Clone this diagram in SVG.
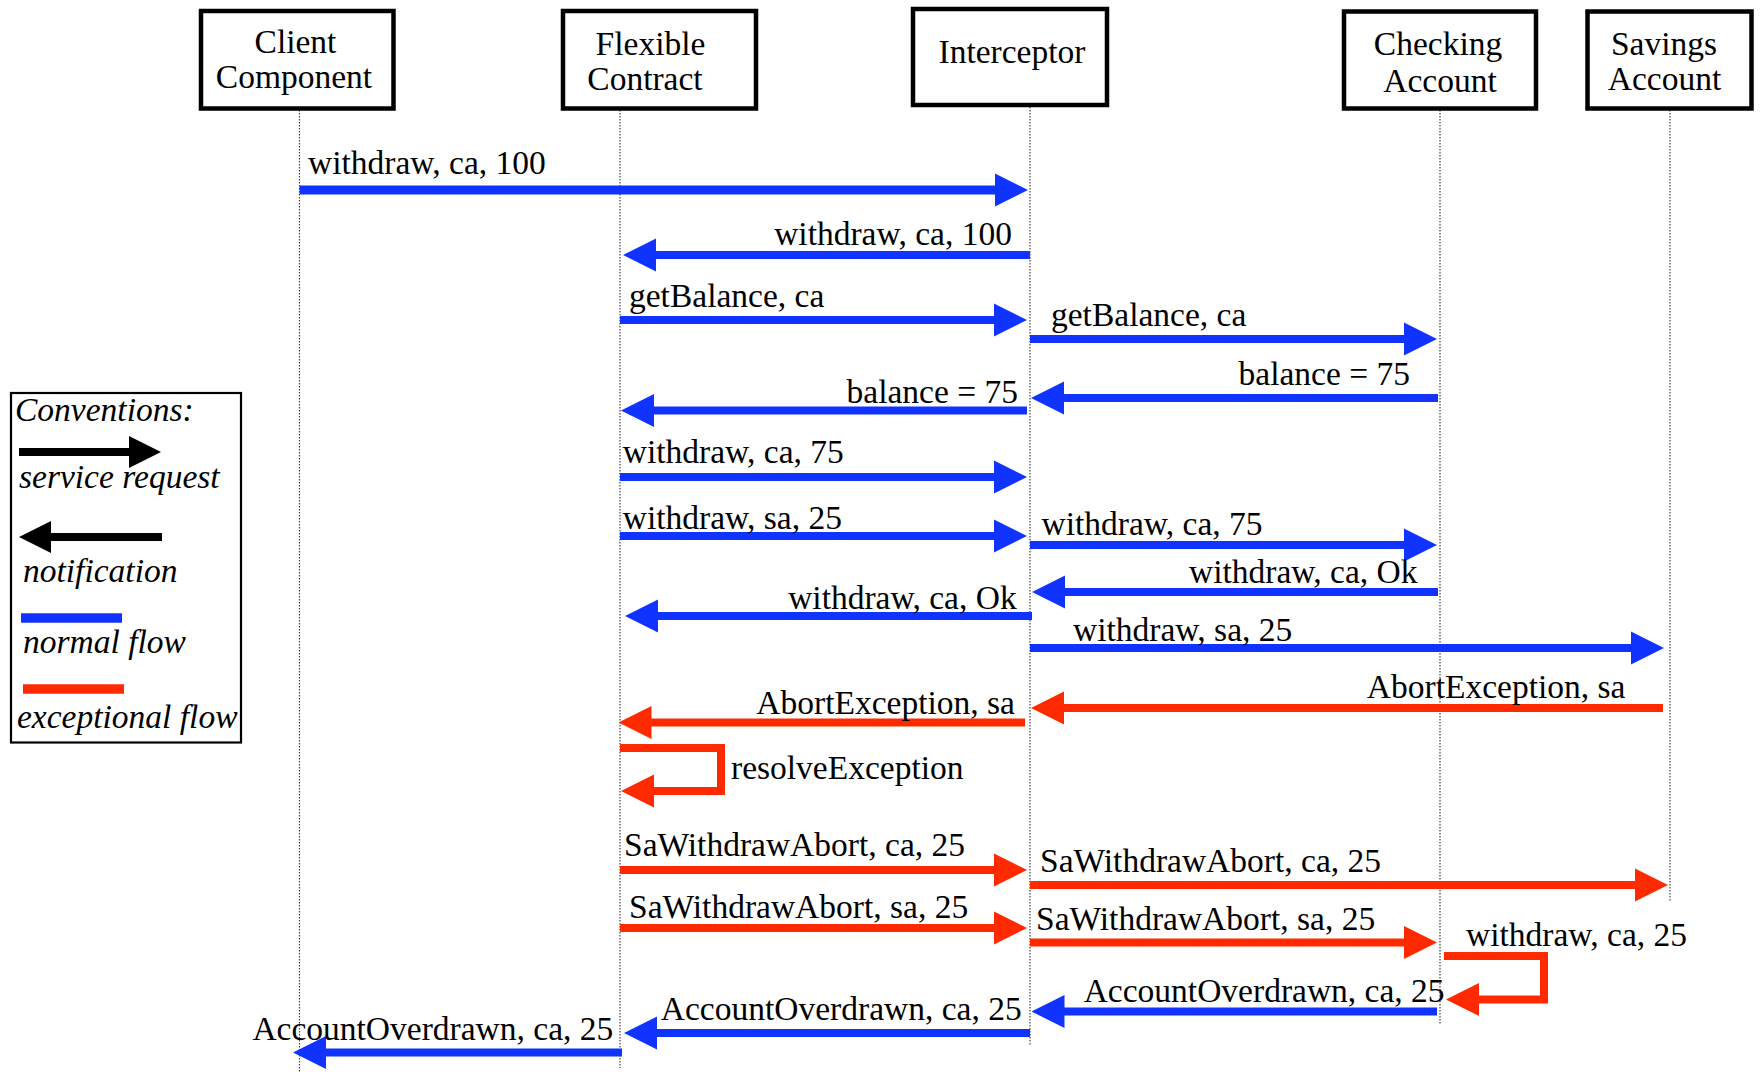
<svg xmlns="http://www.w3.org/2000/svg" width="1762" height="1072" viewBox="0 0 1762 1072">
<style>
  .box{fill:#fff;stroke:#000;stroke-width:4.5}
  .life{stroke:#444;stroke-width:1.2;stroke-dasharray:1.5 1.5;fill:none}
  text{font-family:"Liberation Serif","Times New Roman",serif;font-size:33.5px;fill:#000}
  .it{font-style:italic}
  .m{text-anchor:middle}
  .e{text-anchor:end}
  .n{stroke:#1133ff;stroke-width:8;fill:none;marker-end:url(#hb)}
  .x{stroke:#ff2a00;stroke-width:8;fill:none;marker-end:url(#hr);stroke-linejoin:miter}
  .k{stroke:#000;stroke-width:8;fill:none;marker-end:url(#hk)}
</style>
<defs>
  <marker id="hb" markerUnits="userSpaceOnUse" viewBox="0 -17 33 34" refX="1" refY="0" markerWidth="33" markerHeight="34" orient="auto"><path d="M0,-16.5 L33,0 L0,16.5z" fill="#1133ff"/></marker>
  <marker id="hr" markerUnits="userSpaceOnUse" viewBox="0 -17 33 34" refX="1" refY="0" markerWidth="33" markerHeight="34" orient="auto"><path d="M0,-16.5 L33,0 L0,16.5z" fill="#ff2a00"/></marker>
  <marker id="hk" markerUnits="userSpaceOnUse" viewBox="0 -17 33 34" refX="1" refY="0" markerWidth="33" markerHeight="34" orient="auto"><path d="M0,-16 L32,0 L0,16z" fill="#000"/></marker>
</defs>
<rect width="1762" height="1072" fill="#fff"/>

<!-- participants with their lifelines -->
<g id="client">
  <line class="life" x1="299.5" y1="110" x2="299.5" y2="1072"/>
  <rect class="box" x="201" y="11" width="192.5" height="97.5"/>
  <text class="m" x="295.5" y="53">Client</text>
  <text class="m" x="294" y="87.5">Component</text>
</g>
<g id="flexible-contract">
  <line class="life" x1="620" y1="110" x2="620" y2="1068"/>
  <rect class="box" x="563" y="11" width="193" height="97.5"/>
  <text class="m" x="650.5" y="55">Flexible</text>
  <text class="m" x="645" y="89.5">Contract</text>
</g>
<g id="interceptor">
  <line class="life" x1="1030" y1="107" x2="1030" y2="1045"/>
  <rect class="box" x="913" y="9" width="194" height="96"/>
  <text class="m" x="1012" y="62.5">Interceptor</text>
</g>
<g id="checking-account">
  <line class="life" x1="1440" y1="110" x2="1440" y2="1025"/>
  <rect class="box" x="1344" y="11.5" width="192" height="97"/>
  <text class="m" x="1438" y="54.5">Checking</text>
  <text class="m" x="1440" y="91.5">Account</text>
</g>
<g id="savings-account">
  <line class="life" x1="1670" y1="110" x2="1670" y2="902"/>
  <rect class="box" x="1587.5" y="11.5" width="164" height="97"/>
  <text class="m" x="1664" y="55">Savings</text>
  <text class="m" x="1664.5" y="90">Account</text>
</g>

<!-- messages -->
<g id="connectors">
  <path class="n" style="stroke-width:9" d="M299.5,190 H996"/>
  <path class="n" d="M1030,255 H655"/>
  <path class="n" d="M620,320 H995"/>
  <path class="n" d="M1030,339 H1405"/>
  <path class="n" d="M1438,398 H1063"/>
  <path class="n" d="M1027,410.5 H653"/>
  <path class="n" d="M620,477 H995"/>
  <path class="n" d="M620,536 H995"/>
  <path class="n" d="M1030,545 H1405"/>
  <path class="n" d="M1438,592 H1064"/>
  <path class="n" d="M1032,616 H657"/>
  <path class="n" d="M1030,648 H1632"/>
  <path class="x" d="M1663,708 H1063"/>
  <path class="x" d="M1025,722.5 H650.5"/>
  <path class="x" d="M620,748 H721 V791 H653"/>
  <path class="x" d="M620,870 H995"/>
  <path class="x" d="M1030,885 H1636"/>
  <path class="x" d="M620,928 H995"/>
  <path class="x" d="M1030,942.5 H1405"/>
  <path class="x" d="M1444,956 H1544 V999.5 H1478"/>
  <path class="n" d="M1437,1011.5 H1063.5"/>
  <path class="n" d="M1030,1033 H656"/>
  <path class="n" d="M622,1052.5 H325"/>
</g>

<g id="message-labels">
  <text x="308" y="174">withdraw, ca, 100</text>
  <text class="e" x="1012" y="245">withdraw, ca, 100</text>
  <text x="629" y="306.5">getBalance, ca</text>
  <text x="1051" y="326">getBalance, ca</text>
  <text class="e" x="1410" y="385">balance = 75</text>
  <text class="e" x="1018" y="403">balance = 75</text>
  <text x="622.7" y="463">withdraw, ca, 75</text>
  <text x="622.7" y="529">withdraw, sa, 25</text>
  <text x="1041.5" y="535">withdraw, ca, 75</text>
  <text class="e" x="1417.5" y="583">withdraw, ca, Ok</text>
  <text class="e" x="1016.7" y="609">withdraw, ca, Ok</text>
  <text x="1073" y="640.5">withdraw, sa, 25</text>
  <text class="e" x="1625.5" y="698">AbortException, sa</text>
  <text class="e" x="1015" y="714">AbortException, sa</text>
  <text x="731" y="778.5">resolveException</text>
  <text x="624" y="856">SaWithdrawAbort, ca, 25</text>
  <text x="1040" y="872">SaWithdrawAbort, ca, 25</text>
  <text x="629" y="918">SaWithdrawAbort, sa, 25</text>
  <text x="1036" y="930">SaWithdrawAbort, sa, 25</text>
  <text x="1466" y="946">withdraw, ca, 25</text>
  <text class="e" x="1444.6" y="1002">AccountOverdrawn, ca, 25</text>
  <text class="e" x="1021.7" y="1020">AccountOverdrawn, ca, 25</text>
  <text class="e" x="613.3" y="1040">AccountOverdrawn, ca, 25</text>
</g>

<!-- legend -->
<g id="conventions">
  <rect x="11" y="393" width="230" height="349.5" fill="#fff" stroke="#000" stroke-width="2.2"/>
  <text class="it" x="15" y="421">Conventions:</text>
  <path class="k" d="M19,452 H130"/>
  <text class="it" x="19" y="488">service request</text>
  <path class="k" d="M162,537 H50"/>
  <text class="it" x="23" y="582">notification</text>
  <line x1="21" y1="618" x2="122" y2="618" stroke="#1133ff" stroke-width="9.5"/>
  <text class="it" x="23" y="653">normal flow</text>
  <line x1="23" y1="689" x2="124" y2="689" stroke="#ff2a00" stroke-width="9.5"/>
  <text class="it" x="17" y="728">exceptional flow</text>
</g>
</svg>
